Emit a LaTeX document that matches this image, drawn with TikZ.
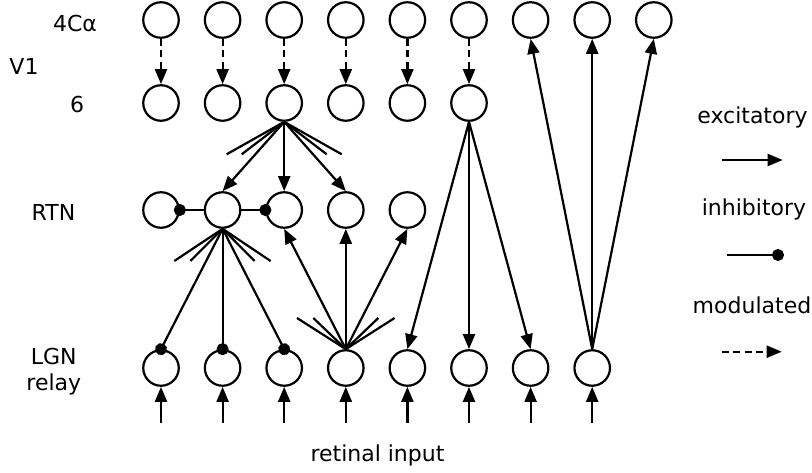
\documentclass[tikz,border=0pt]{standalone}
\usepackage{fontspec}
\setmainfont{DejaVu Sans}
\usetikzlibrary{arrows.meta}
\begin{document}
\begin{tikzpicture}[x=1pt,y=-1pt,
  cell/.style={circle,draw,line width=2.2pt,minimum size=35.5pt,inner sep=0pt},
  lbl/.style={anchor=base,font=\fontsize{22}{26}\selectfont,inner sep=0pt},
  exc/.style={line width=2.2pt,-{Triangle[length=15pt,width=12pt]}},
  inh/.style={line width=2.2pt,-{Circle[length=12pt]},shorten >=-6pt},
  modu/.style={line width=2.2pt,dash pattern=on 7pt off 4.5pt,-{Triangle[length=15pt,width=12pt]}},
  stub/.style={line width=2.2pt}
]
\useasboundingbox (0,0) rectangle (812,473);

% layer 4Calpha
\foreach \i/\x in {1/161,2/222.6,3/284.2,4/345.8,5/407.4,6/469,7/530.6,8/592.2,9/653.8}
  \node[cell] (a\i) at (\x,20) {};
% layer 6
\foreach \i/\x in {1/161,2/222.6,3/284.2,4/345.8,5/407.4,6/469}
  \node[cell] (s\i) at (\x,103) {};
% RTN
\foreach \i/\x in {1/161,2/222.6,3/284.2,4/345.8,5/407.4}
  \node[cell] (r\i) at (\x,210) {};
% LGN relay
\foreach \i/\x in {1/161,2/222.6,3/284.2,4/345.8,5/407.4,6/469,7/530.6,8/592.2}
  \node[cell] (g\i) at (\x,368) {};
% retinal input free ends
\foreach \i/\x in {1/161,2/222.6,3/284.2,4/345.8,5/407.4,6/469,7/530.6,8/592.2}
  \coordinate (in\i) at (\x,423);

% labels
\node[lbl] (l4c) at (75,31.7) {4Cα};
\node[lbl] (lv1) at (24,75) {V1};
\node[lbl] (l6) at (77,113) {6};
\node[lbl] (lrtn) at (53.5,220.7) {RTN};
\node[lbl] (llgn) at (53.8,364) {LGN};
\node[lbl] (lrel) at (53.8,390) {relay};
\node[lbl] (lret) at (377.5,461.7) {retinal input};
\node[lbl] (lexc) at (752.5,123.3) {excitatory};
\node[lbl] (linh) at (754,215.7) {inhibitory};
\node[lbl] (lmod) at (752,313.3) {modulated};

% modulated 4Calpha -> 6
\foreach \i in {1,...,6}
  \draw[modu] (a\i.south) -- (s\i.north);

% 6 -> RTN fan
\foreach \j in {2,3,4}
  \draw[exc] (s3.south) -- (r\j.north);
\coordinate (sa) at (226.7,154.3);
\coordinate (sb) at (241.7,154.3);
\coordinate (sc) at (326.7,154.3);
\coordinate (sd) at (341.7,154.3);
\foreach \c in {sa,sb,sc,sd}
  \draw[stub] (s3.south) -- (\c);

% RTN lateral inhibition
\draw[inh] (r2.west) -- (r1.east);
\draw[inh] (r2.east) -- (r3.west);

% RTN -> LGN inhibition fan
\foreach \j in {1,2,3}
  \draw[inh] (r2.south) -- (g\j.north);
\coordinate (ra) at (174.3,261);
\coordinate (rb) at (190.3,261);
\coordinate (rc) at (254.6,261);
\coordinate (rd) at (270.6,261);
\foreach \c in {ra,rb,rc,rd}
  \draw[stub] (r2.south) -- (\c);

% LGN4 -> RTN fan
\foreach \j in {3,4,5}
  \draw[exc] (g4.north) -- (r\j.south);
\coordinate (ga) at (297,318);
\coordinate (gb) at (313.3,318);
\coordinate (gc) at (378.3,318);
\coordinate (gd) at (394.6,318);
\foreach \c in {ga,gb,gc,gd}
  \draw[stub] (g4.north) -- (\c);

% 6 -> LGN
\foreach \j in {5,6,7}
  \draw[exc] (s6.south) -- (g\j.north);

% LGN -> 4Calpha
\foreach \j in {7,8,9}
  \draw[exc] (g8.north) -- (a\j.south);

% retinal input
\foreach \i in {1,...,8}
  \draw[exc] (in\i) -- (g\i.south);

% legend
\coordinate (le1) at (721.7,160);
\coordinate (le2) at (782.7,160);
\coordinate (li1) at (726.7,255);
\coordinate (li2) at (778,255);
\coordinate (lm1) at (721.7,351.7);
\coordinate (lm2) at (781.7,351.7);
\draw[exc] (le1) -- (le2);
\draw[inh] (li1) -- (li2);
\draw[modu] (lm1) -- (lm2);
\end{tikzpicture}
\end{document}
